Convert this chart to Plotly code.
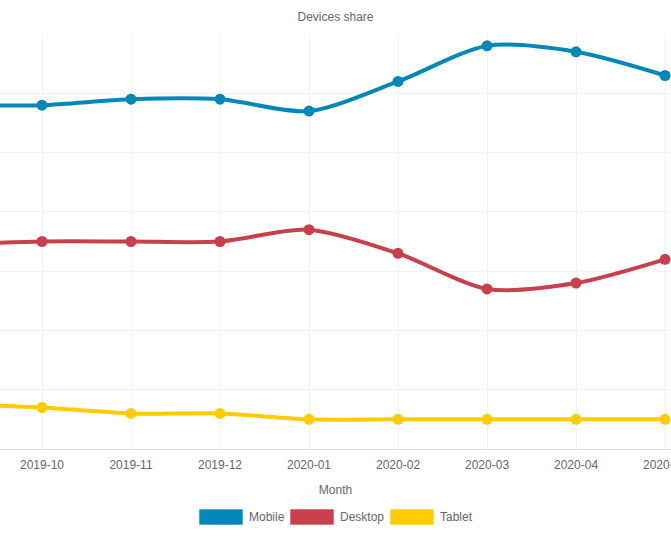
import plotly.graph_objects as go

# dados (% de participação por dispositivo)
months = ["2019-09", "2019-10", "2019-11", "2019-12", "2020-01",
          "2020-02", "2020-03", "2020-04", "2020-05"]
mobile = [58, 58, 59, 59, 57, 62, 68, 67, 63]
desktop = [34.5, 35, 35, 35, 37, 33, 27, 28, 32]
tablet = [7.6, 7, 6, 6, 5, 5, 5, 5, 5]

series_names = ["Mobile", "Desktop", "Tablet"]
colors = ["#0088b9", "#c8404a", "#ffcc00"]

W, H = 671, 534
top, bottom = 34, 85
plot_h = H - top - bottom

fig = go.Figure()
for name, vals, col in zip(series_names, [mobile, desktop, tablet], colors):
    fig.add_trace(go.Scatter(
        x=months, y=vals, name=name, mode="lines+markers",
        line=dict(color=col, width=4, shape="spline", smoothing=0.8),
        marker=dict(color=col, size=11),
        showlegend=False,
    ))

# legenda estilo Chart.js (caixas retangulares)
def py(px):
    return (H - bottom - px) / plot_h

legend_items = [(199, "Mobile"), (290, "Desktop"), (390, "Tablet")]
shapes, annotations = [], []
for (x0, label), col in zip(legend_items, colors):
    shapes.append(dict(type="rect", xref="paper", yref="paper",
                       x0=x0 / W, x1=(x0 + 44) / W, y0=py(525), y1=py(509),
                       fillcolor=col, line=dict(color="rgba(255,255,255,0.6)", width=1)))
    annotations.append(dict(text=label, xref="paper", yref="paper",
                            x=(x0 + 48) / W, y=py(517), xanchor="left", yanchor="middle",
                            showarrow=False, font=dict(size=12, color="#666")))

fig.update_layout(
    width=W, height=H,
    margin=dict(l=0, r=0, t=top, b=bottom),
    paper_bgcolor="white", plot_bgcolor="white",
    font=dict(family="Liberation Sans, Arial, sans-serif", size=12, color="#666"),
    title=dict(text="Devices share", x=0.5, xanchor="center", y=1 - 17 / H, yanchor="middle",
               font=dict(size=12, color="#666")),
    shapes=shapes, annotations=annotations,
    xaxis=dict(type="category", range=[0.528, 8.067], automargin=False, showgrid=True,
               gridcolor="#f2f2f2", gridwidth=1, showline=True, linecolor="#dcdcdc",
               linewidth=1, ticks="", tickfont=dict(size=12, color="#666"),
               ticklabelstandoff=5,
               title=dict(text="Month", font=dict(size=12, color="#666"), standoff=14),
               zeroline=False),
    yaxis=dict(range=[0, 70], dtick=10, automargin=False, showgrid=True, gridcolor="#f2f2f2",
               showticklabels=False, zeroline=False, ticks=""),
)

# sem margem do body, para o gráfico ocupar a janela toda
fig.write_html("out.html", config={"displayModeBar": False},
               post_script="document.body.style.margin='0';"
               "document.body.style.overflow='hidden';")
